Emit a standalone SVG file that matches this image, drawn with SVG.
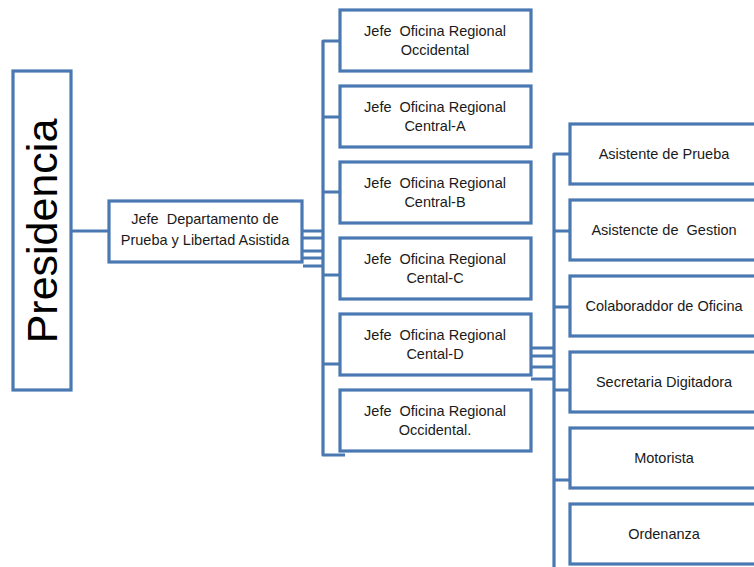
<svg xmlns="http://www.w3.org/2000/svg" width="754" height="567" viewBox="0 0 754 567">
<style>
.box{fill:#ffffff;stroke:#4A78B2;stroke-width:3.2}
.ln{fill:none;stroke:#4A78B2;stroke-width:3.2;stroke-linejoin:round}
.t{font-family:"Liberation Sans",Arial,sans-serif;font-size:14.5px;fill:#1a1a1a;text-anchor:middle;white-space:pre}
.big{font-family:"Liberation Sans",Arial,sans-serif;font-size:43px;fill:#000000;text-anchor:middle}
</style>
<rect width="754" height="567" fill="#ffffff"/>
<g id="connectors">
<path class="ln" d="M71 231 H109"/>
<path class="ln" d="M302 231 H323 M302 238 H323 M302 251 H323 M302 258 H323 M303 266 H323"/>
<path class="ln" d="M340 41 H323 V455 H345 M323 117 H340 M323 192 H340 M323 275 H340 M323 364 H340"/>
<path class="ln" d="M531 348 H554 M531 356 H554 M531 367 H554 M531 379 H554"/>
<path class="ln" d="M570 154 H554 V567 M554 231 H570 M554 307 H570 M554 390 H570 M554 480 H570"/>
</g>
<g id="presidencia">
<rect class="box" x="13" y="71" width="58" height="319"/>
<text class="big" transform="translate(57,231) rotate(-90)">Presidencia</text>
</g>
<g id="jefe-departamento">
<rect class="box" x="109" y="201" width="193" height="61"/>
<text class="t" x="205" y="224">Jefe  Departamento de</text>
<text class="t" x="205" y="245">Prueba y Libertad Asistida</text>
</g>
<g id="regional-occidental">
<rect class="box" x="340" y="10" width="191" height="61"/>
<text class="t" x="435" y="36">Jefe  Oficina Regional</text>
<text class="t" x="435" y="55">Occidental</text>
</g>
<g id="regional-central-a">
<rect class="box" x="340" y="86" width="191" height="61"/>
<text class="t" x="435" y="112">Jefe  Oficina Regional</text>
<text class="t" x="435" y="131">Central-A</text>
</g>
<g id="regional-central-b">
<rect class="box" x="340" y="162" width="191" height="61"/>
<text class="t" x="435" y="188">Jefe  Oficina Regional</text>
<text class="t" x="435" y="207">Central-B</text>
</g>
<g id="regional-cental-c">
<rect class="box" x="340" y="238" width="191" height="61"/>
<text class="t" x="435" y="264">Jefe  Oficina Regional</text>
<text class="t" x="435" y="283">Cental-C</text>
</g>
<g id="regional-cental-d">
<rect class="box" x="340" y="314" width="191" height="61"/>
<text class="t" x="435" y="340">Jefe  Oficina Regional</text>
<text class="t" x="435" y="359">Cental-D</text>
</g>
<g id="regional-occidental-2">
<rect class="box" x="340" y="390" width="191" height="61"/>
<text class="t" x="435" y="416">Jefe  Oficina Regional</text>
<text class="t" x="435" y="435">Occidental.</text>
</g>
<g id="asistente-prueba">
<rect class="box" x="570" y="124" width="192" height="60"/>
<text class="t" x="664" y="159">Asistente de Prueba</text>
</g>
<g id="asistente-gestion">
<rect class="box" x="570" y="200" width="192" height="60"/>
<text class="t" x="664" y="235">Asistencte de  Gestion</text>
</g>
<g id="colaborador">
<rect class="box" x="570" y="276" width="192" height="60"/>
<text class="t" x="664" y="311">Colaboraddor de Oficina</text>
</g>
<g id="secretaria">
<rect class="box" x="570" y="352" width="192" height="60"/>
<text class="t" x="664" y="387">Secretaria Digitadora</text>
</g>
<g id="motorista">
<rect class="box" x="570" y="428" width="192" height="60"/>
<text class="t" x="664" y="463">Motorista</text>
</g>
<g id="ordenanza">
<rect class="box" x="570" y="504" width="192" height="60"/>
<text class="t" x="664" y="539">Ordenanza</text>
</g>
</svg>
